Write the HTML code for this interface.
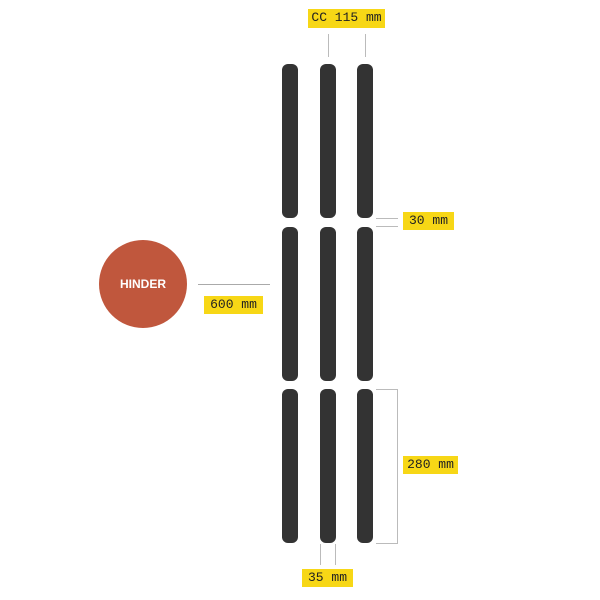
<!DOCTYPE html>
<html><head><style>
body{margin:0;width:600px;height:600px;background:#fff;position:relative;overflow:hidden;font-family:"Liberation Mono",monospace}
.b{position:absolute;background:#333;border-radius:6px;width:16px}
.l{position:absolute;background:#bbb}
.t{position:absolute;background:#f7d716;color:#222;font-size:13px;line-height:18px;text-align:center}
</style></head><body>
<div class="b" style="left:282px;top:64px;height:154px"></div>
<div class="b" style="left:320px;top:64px;height:154px"></div>
<div class="b" style="left:357px;top:64px;height:154px"></div>
<div class="b" style="left:282px;top:227px;height:154px"></div>
<div class="b" style="left:320px;top:227px;height:154px"></div>
<div class="b" style="left:357px;top:227px;height:154px"></div>
<div class="b" style="left:282px;top:389px;height:154px"></div>
<div class="b" style="left:320px;top:389px;height:154px"></div>
<div class="b" style="left:357px;top:389px;height:154px"></div>
<div class="t" style="left:308px;top:9px;width:77px;height:19px">CC 115 mm</div>
<div class="l" style="left:328px;top:34px;width:1px;height:23px"></div>
<div class="l" style="left:365px;top:34px;width:1px;height:23px"></div>
<div class="l" style="left:376px;top:218px;width:22px;height:1px"></div>
<div class="l" style="left:376px;top:226px;width:22px;height:1px"></div>
<div class="t" style="left:403px;top:212px;width:51px;height:18px">30 mm</div>
<div style="position:absolute;left:99px;top:240px;width:88px;height:88px;border-radius:50%;background:#c0573d;color:#fff;font:bold 12px/88px 'Liberation Sans',sans-serif;text-align:center">HINDER</div>
<div class="l" style="left:198px;top:284px;width:72px;height:1px;background:#aaa"></div>
<div class="t" style="left:204px;top:296px;width:59px;height:18px">600 mm</div>
<div style="position:absolute;left:376px;top:389px;width:21px;height:153px;border:1px solid #bbb;border-left:none"></div>
<div class="t" style="left:403px;top:456px;width:55px;height:18px">280 mm</div>
<div class="l" style="left:320px;top:544px;width:1px;height:21px"></div>
<div class="l" style="left:335px;top:544px;width:1px;height:21px"></div>
<div class="t" style="left:302px;top:569px;width:51px;height:18px">35 mm</div>
</body></html>
